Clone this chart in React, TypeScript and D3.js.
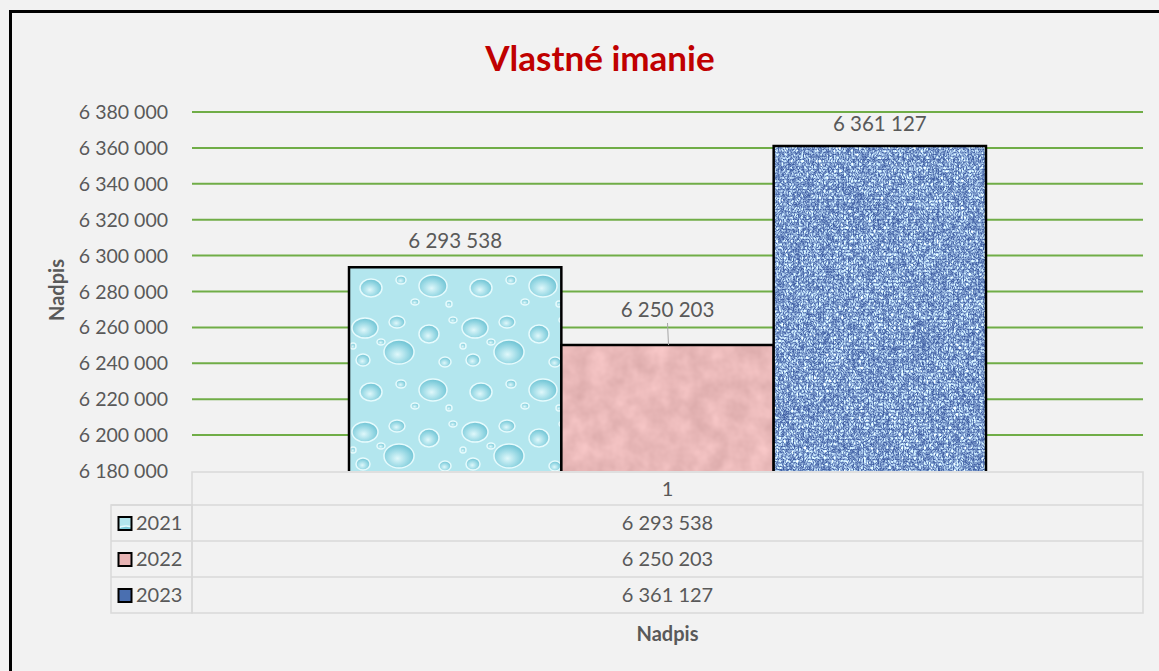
import React, { useEffect, useRef } from "react";
import * as d3 from "d3";

// data
const categories = ["1"];
const seriesNames = ["2021", "2022", "2023"];
const seriesValues = [6293538, 6250203, 6361127];
const yTicks = [6180000, 6200000, 6220000, 6240000, 6260000, 6280000, 6300000, 6320000, 6340000, 6360000, 6380000];

const fmt = (v: number) => d3.format(",")(v).replace(/,/g, " ");

const FONT = "Lato, 'Open Sans', sans-serif";
const GREY = "#595959";

// decorative water drops for the 2021 texture: [cx, cy, rx, ry]
const dropList = [
  [16, 16, 13, 10],
  [48, 10, 8, 6],
  [50, 40, 15, 12],
  [14, 48, 7, 6],
  [32, 30, 4, 3],
  [80, 22, 10, 9],
  [96, 50, 6, 5],
  [84, 78, 14, 11],
  [22, 80, 11, 9],
  [52, 72, 5, 4],
  [104, 8, 4, 3],
  [4, 34, 3, 3],
  [66, 94, 4, 3],
  [100, 96, 3, 3],
];

export default function App() {
  const ref = useRef<SVGSVGElement>(null);

  useEffect(() => {
    const width = 1159,
      height = 671;
    const svg = d3.select(ref.current);
    svg.selectAll("*").remove();

    const left = 192,
      right = 1143,
      top = 112,
      bottom = 471;

    // textures
    const defs = svg.append("defs");

    const drops = defs
      .append("pattern")
      .attr("id", "drops")
      .attr("patternUnits", "userSpaceOnUse")
      .attr("width", 110)
      .attr("height", 104);
    const dg = defs
      .append("radialGradient")
      .attr("id", "dropGrad")
      .attr("cx", "45%")
      .attr("cy", "60%")
      .attr("r", "60%");
    dg.append("stop").attr("offset", "0%").attr("stop-color", "#dff8fb");
    dg.append("stop").attr("offset", "55%").attr("stop-color", "#9edbe6");
    dg.append("stop").attr("offset", "100%").attr("stop-color", "#6cc2d3");
    drops.append("rect").attr("width", 110).attr("height", 104).attr("fill", "#b3e6ee");
    drops
      .selectAll("ellipse")
      .data(dropList)
      .join("ellipse")
      .attr("cx", (d) => d[0])
      .attr("cy", (d) => d[1])
      .attr("rx", (d) => d[2])
      .attr("ry", (d) => d[3])
      .attr("fill", "url(#dropGrad)")
      .attr("stroke", "#e6fbfd")
      .attr("stroke-width", 1.5);

    const pinkF = defs
      .append("filter")
      .attr("id", "pinkTex")
      .attr("x", 0)
      .attr("y", 0)
      .attr("width", 1)
      .attr("height", 1)
      .attr("color-interpolation-filters", "sRGB");
    pinkF.append("feTurbulence").attr("type", "fractalNoise").attr("baseFrequency", 0.05).attr("numOctaves", 3).attr("seed", 3).attr("result", "n");
    pinkF
      .append("feColorMatrix")
      .attr("in", "n")
      .attr("type", "matrix")
      .attr("values", "0.15 0 0 0 0.84  0.15 0 0 0 0.65  0.15 0 0 0 0.65  0 0 0 0 1");

    const blueF = defs
      .append("filter")
      .attr("id", "blueTex")
      .attr("x", 0)
      .attr("y", 0)
      .attr("width", 1)
      .attr("height", 1)
      .attr("color-interpolation-filters", "sRGB");
    blueF.append("feTurbulence").attr("type", "turbulence").attr("baseFrequency", "0.4 0.3").attr("numOctaves", 2).attr("seed", 7).attr("result", "n");
    blueF
      .append("feColorMatrix")
      .attr("in", "n")
      .attr("type", "matrix")
      .attr("values", "1.2 0 0 0 0.22  1.2 0 0 0 0.34  0.8 0 0 0 0.62  0 0 0 0 1");

    const fills = ["url(#drops)", "#e7b4b4", "#4a6fb0"];
    const filters = [null, "url(#pinkTex)", "url(#blueTex)"];

    // background + frame
    svg.append("rect").attr("width", width).attr("height", height).attr("fill", "#f2f2f2");
    svg
      .append("path")
      .attr("d", `M10.5,${height} V11.5 H${width}`)
      .attr("fill", "none")
      .attr("stroke", "#000")
      .attr("stroke-width", 3);

    // title
    svg
      .append("text")
      .attr("x", 600)
      .attr("y", 71)
      .attr("text-anchor", "middle")
      .attr("font-family", FONT)
      .attr("font-weight", "bold")
      .attr("font-size", 35)
      .attr("fill", "#c00000")
      .text("Vlastné imanie");

    const y = d3.scaleLinear().domain([6180000, 6380000]).range([bottom, top]);
    const x0 = d3.scaleBand().domain(categories).range([left, right]).paddingInner(0).paddingOuter(0.2465);
    const x1 = d3.scaleBand().domain(seriesNames).range([0, x0.bandwidth()]).padding(0);

    // gridlines
    svg
      .append("g")
      .selectAll("line")
      .data(yTicks.slice(1))
      .join("line")
      .attr("x1", left)
      .attr("x2", right)
      .attr("y1", (d) => y(d))
      .attr("y2", (d) => y(d))
      .attr("stroke", "#70ad47")
      .attr("stroke-width", 2);

    // y tick labels
    svg
      .append("g")
      .selectAll("text")
      .data(yTicks)
      .join("text")
      .attr("x", 168)
      .attr("y", (d) => y(d) + 7)
      .attr("text-anchor", "end")
      .attr("font-family", FONT)
      .attr("font-size", 19.5)
      .attr("fill", GREY)
      .text((d) => fmt(d));

    // bars
    const groups = svg
      .append("g")
      .selectAll("g")
      .data(categories)
      .join("g")
      .attr("transform", (d) => `translate(${x0(d)},0)`);

    seriesNames.forEach((s, i) => {
      const bx = x1(s)!;
      const bw = x1.bandwidth();
      const by = y(seriesValues[i]);
      const bh = bottom - by;
      const r = groups
        .append("rect")
        .attr("x", bx)
        .attr("y", by)
        .attr("width", bw)
        .attr("height", bh)
        .attr("fill", fills[i]);
      if (filters[i]) r.attr("filter", filters[i]);
      groups
        .append("path")
        .attr("d", `M${bx},${bottom} V${by} H${bx + bw} V${bottom}`)
        .attr("fill", "none")
        .attr("stroke", "#000")
        .attr("stroke-width", 2.5);
    });

    // data labels
    const labelOffset = [19, 28, 15];
    seriesNames.forEach((s, i) => {
      const cx = x0(categories[0])! + x1(s)! + x1.bandwidth() / 2;
      const ly = y(seriesValues[i]) - labelOffset[i];
      svg
        .append("text")
        .attr("x", cx)
        .attr("y", ly)
        .attr("text-anchor", "middle")
        .attr("font-family", FONT)
        .attr("font-size", 20.5)
        .attr("fill", GREY)
        .text(fmt(seriesValues[i]));
      if (labelOffset[i] > 25) {
        svg
          .append("line")
          .attr("x1", cx)
          .attr("x2", cx + 1)
          .attr("y1", ly + 6)
          .attr("y2", y(seriesValues[i]))
          .attr("stroke", "#a6a6a6")
          .attr("stroke-width", 1);
      }
    });

    // data table
    const tTop = 472,
      headH = 33,
      rowH = 36,
      tLeft = 111;
    const grid = svg.append("g").attr("stroke", "#d9d9d9").attr("stroke-width", 1.5).attr("fill", "none");
    grid.append("rect").attr("x", left).attr("y", tTop).attr("width", right - left).attr("height", headH + rowH * 3);
    grid.append("rect").attr("x", tLeft).attr("y", tTop + headH).attr("width", left - tLeft).attr("height", rowH * 3);
    seriesNames.forEach((_, i) => {
      grid
        .append("line")
        .attr("x1", tLeft)
        .attr("x2", right)
        .attr("y1", tTop + headH + rowH * i)
        .attr("y2", tTop + headH + rowH * i);
    });

    svg
      .append("text")
      .attr("x", (left + right) / 2)
      .attr("y", tTop + 24)
      .attr("text-anchor", "middle")
      .attr("font-family", FONT)
      .attr("font-size", 20)
      .attr("fill", GREY)
      .text(categories[0]);

    seriesNames.forEach((s, i) => {
      const ry = tTop + headH + rowH * i;
      svg
        .append("rect")
        .attr("x", 118.5)
        .attr("y", ry + 12)
        .attr("width", 13)
        .attr("height", 13)
        .attr("fill", fills[i])
        .attr("stroke", "#000")
        .attr("stroke-width", 2);
      svg
        .append("text")
        .attr("x", 136)
        .attr("y", ry + 25)
        .attr("font-family", FONT)
        .attr("font-size", 20)
        .attr("fill", GREY)
        .text(s);
      svg
        .append("text")
        .attr("x", (left + right) / 2)
        .attr("y", ry + 25)
        .attr("text-anchor", "middle")
        .attr("font-family", FONT)
        .attr("font-size", 20)
        .attr("fill", GREY)
        .text(fmt(seriesValues[i]));
    });

    // axis titles
    svg
      .append("text")
      .attr("x", (left + right) / 2)
      .attr("y", 641)
      .attr("text-anchor", "middle")
      .attr("font-family", FONT)
      .attr("font-weight", "bold")
      .attr("font-size", 20)
      .attr("fill", GREY)
      .text("Nadpis");
    svg
      .append("text")
      .attr("transform", `translate(64,290) rotate(-90)`)
      .attr("text-anchor", "middle")
      .attr("font-family", FONT)
      .attr("font-weight", "bold")
      .attr("font-size", 20)
      .attr("fill", GREY)
      .text("Nadpis");
  }, []);

  return (
    <svg
      ref={ref}
      width={1159}
      height={671}
      style={{ position: "absolute", left: 0, top: 0, display: "block" }}
    />
  );
}
